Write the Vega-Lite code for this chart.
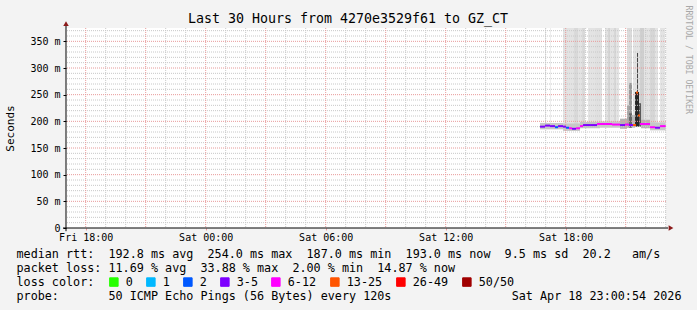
{
  "$schema": "https://vega.github.io/schema/vega-lite/v6.json",
  "width": 600,
  "height": 200,
  "autosize": {"type": "none"},
  "padding": {"left": 66, "top": 28, "right": 31, "bottom": 82},
  "background": "#f3f3f3",
  "config": {"view": {"stroke": null, "fill": "white"}, "font": "DejaVu Sans Mono"},
  "title": {"text": "Last 30 Hours from 4270e3529f61 to GZ_CT", "font": "DejaVu Sans Mono", "fontSize": 13.3, "fontWeight": "normal", "color": "black", "anchor": "middle", "frame": "group", "dx": -18, "dy": 24, "offset": 4},
  "datasets": {
    "smoke": [
      {"t0": "2026-04-18T16:58:00", "t1": "2026-04-18T17:01:00", "lo": 195, "hi": 375, "density": 0.10},
      {"t0": "2026-04-18T17:13:00", "t1": "2026-04-18T17:16:00", "lo": 195, "hi": 375, "density": 0.07},
      {"t0": "2026-04-18T17:52:00", "t1": "2026-04-18T18:25:00", "lo": 195, "hi": 375, "density": 0.11},
      {"t0": "2026-04-18T18:25:00", "t1": "2026-04-18T18:37:00", "lo": 195, "hi": 375, "density": 0.15},
      {"t0": "2026-04-18T18:37:00", "t1": "2026-04-18T18:49:00", "lo": 195, "hi": 375, "density": 0.11},
      {"t0": "2026-04-18T18:49:00", "t1": "2026-04-18T18:58:00", "lo": 195, "hi": 375, "density": 0.15},
      {"t0": "2026-04-18T19:07:00", "t1": "2026-04-18T19:28:00", "lo": 195, "hi": 375, "density": 0.11},
      {"t0": "2026-04-18T19:28:00", "t1": "2026-04-18T19:49:00", "lo": 195, "hi": 375, "density": 0.12},
      {"t0": "2026-04-18T19:58:00", "t1": "2026-04-18T20:07:00", "lo": 195, "hi": 375, "density": 0.11},
      {"t0": "2026-04-18T20:07:00", "t1": "2026-04-18T20:13:00", "lo": 195, "hi": 375, "density": 0.17},
      {"t0": "2026-04-18T20:13:00", "t1": "2026-04-18T20:25:00", "lo": 195, "hi": 375, "density": 0.11},
      {"t0": "2026-04-18T20:25:00", "t1": "2026-04-18T20:31:00", "lo": 195, "hi": 375, "density": 0.16},
      {"t0": "2026-04-18T20:31:00", "t1": "2026-04-18T20:40:00", "lo": 195, "hi": 375, "density": 0.11},
      {"t0": "2026-04-18T21:04:00", "t1": "2026-04-18T21:19:00", "lo": 195, "hi": 375, "density": 0.14},
      {"t0": "2026-04-18T21:22:00", "t1": "2026-04-18T21:43:00", "lo": 195, "hi": 375, "density": 0.11},
      {"t0": "2026-04-18T21:43:00", "t1": "2026-04-18T21:55:00", "lo": 195, "hi": 375, "density": 0.19},
      {"t0": "2026-04-18T21:55:00", "t1": "2026-04-18T22:13:00", "lo": 195, "hi": 375, "density": 0.11},
      {"t0": "2026-04-18T22:13:00", "t1": "2026-04-18T22:28:00", "lo": 195, "hi": 375, "density": 0.16},
      {"t0": "2026-04-18T22:28:00", "t1": "2026-04-18T22:37:00", "lo": 195, "hi": 375, "density": 0.11},
      {"t0": "2026-04-18T22:43:00", "t1": "2026-04-18T22:58:00", "lo": 195, "hi": 375, "density": 0.11},
      {"t0": "2026-04-18T16:43:00", "t1": "2026-04-18T17:52:00", "lo": 185, "hi": 197, "density": 0.22},
      {"t0": "2026-04-18T17:52:00", "t1": "2026-04-18T18:43:00", "lo": 182, "hi": 196, "density": 0.22},
      {"t0": "2026-04-18T18:43:00", "t1": "2026-04-18T19:43:00", "lo": 187, "hi": 199, "density": 0.24},
      {"t0": "2026-04-18T19:43:00", "t1": "2026-04-18T20:43:00", "lo": 188, "hi": 200, "density": 0.22},
      {"t0": "2026-04-18T20:43:00", "t1": "2026-04-18T21:04:00", "lo": 186, "hi": 205, "density": 0.30},
      {"t0": "2026-04-18T21:04:00", "t1": "2026-04-18T21:10:00", "lo": 188, "hi": 230, "density": 0.35},
      {"t0": "2026-04-18T21:10:00", "t1": "2026-04-18T21:19:00", "lo": 188, "hi": 272, "density": 0.40},
      {"t0": "2026-04-18T21:10:00", "t1": "2026-04-18T21:19:00", "lo": 188, "hi": 215, "density": 0.60},
      {"t0": "2026-04-18T21:19:00", "t1": "2026-04-18T21:28:00", "lo": 188, "hi": 212, "density": 0.28},
      {"t0": "2026-04-18T21:28:00", "t1": "2026-04-18T21:40:00", "lo": 190, "hi": 255, "density": 0.85},
      {"t0": "2026-04-18T21:34:00", "t1": "2026-04-18T21:37:00", "lo": 255, "hi": 328, "density": 0.75},
      {"t0": "2026-04-18T21:40:00", "t1": "2026-04-18T21:46:00", "lo": 190, "hi": 234, "density": 0.65},
      {"t0": "2026-04-18T21:46:00", "t1": "2026-04-18T22:13:00", "lo": 187, "hi": 203, "density": 0.30},
      {"t0": "2026-04-18T22:13:00", "t1": "2026-04-18T23:00:00", "lo": 183, "hi": 198, "density": 0.22}
    ],
    "median": [
      {"t0": "2026-04-18T16:43:00", "t1": "2026-04-18T16:58:00", "rtt": 190, "loss": "3-5"},
      {"t0": "2026-04-18T16:58:00", "t1": "2026-04-18T17:13:00", "rtt": 192, "loss": "3-5"},
      {"t0": "2026-04-18T17:13:00", "t1": "2026-04-18T17:28:00", "rtt": 191, "loss": "3-5"},
      {"t0": "2026-04-18T17:28:00", "t1": "2026-04-18T17:37:00", "rtt": 189, "loss": "2"},
      {"t0": "2026-04-18T17:37:00", "t1": "2026-04-18T17:52:00", "rtt": 191, "loss": "3-5"},
      {"t0": "2026-04-18T17:52:00", "t1": "2026-04-18T18:01:00", "rtt": 190, "loss": "3-5"},
      {"t0": "2026-04-18T18:01:00", "t1": "2026-04-18T18:10:00", "rtt": 188, "loss": "2"},
      {"t0": "2026-04-18T18:10:00", "t1": "2026-04-18T18:19:00", "rtt": 187, "loss": "6-12"},
      {"t0": "2026-04-18T18:19:00", "t1": "2026-04-18T18:31:00", "rtt": 186, "loss": "3-5"},
      {"t0": "2026-04-18T18:31:00", "t1": "2026-04-18T18:43:00", "rtt": 187, "loss": "6-12"},
      {"t0": "2026-04-18T18:43:00", "t1": "2026-04-18T18:52:00", "rtt": 191, "loss": "6-12"},
      {"t0": "2026-04-18T18:52:00", "t1": "2026-04-18T19:13:00", "rtt": 193, "loss": "3-5"},
      {"t0": "2026-04-18T19:13:00", "t1": "2026-04-18T19:34:00", "rtt": 193, "loss": "3-5"},
      {"t0": "2026-04-18T19:34:00", "t1": "2026-04-18T19:58:00", "rtt": 195, "loss": "6-12"},
      {"t0": "2026-04-18T19:58:00", "t1": "2026-04-18T20:19:00", "rtt": 195, "loss": "6-12"},
      {"t0": "2026-04-18T20:19:00", "t1": "2026-04-18T20:43:00", "rtt": 194, "loss": "6-12"},
      {"t0": "2026-04-18T20:43:00", "t1": "2026-04-18T20:58:00", "rtt": 193, "loss": "3-5"},
      {"t0": "2026-04-18T20:58:00", "t1": "2026-04-18T21:10:00", "rtt": 194, "loss": "6-12"},
      {"t0": "2026-04-18T21:10:00", "t1": "2026-04-18T21:22:00", "rtt": 193, "loss": "3-5"},
      {"t0": "2026-04-18T21:22:00", "t1": "2026-04-18T21:31:00", "rtt": 193, "loss": "13-25"},
      {"t0": "2026-04-18T21:31:00", "t1": "2026-04-18T21:37:00", "rtt": 254, "loss": "13-25"},
      {"t0": "2026-04-18T21:37:00", "t1": "2026-04-18T21:43:00", "rtt": 211, "loss": "13-25"},
      {"t0": "2026-04-18T21:43:00", "t1": "2026-04-18T21:58:00", "rtt": 195, "loss": "6-12"},
      {"t0": "2026-04-18T21:58:00", "t1": "2026-04-18T22:13:00", "rtt": 195, "loss": "6-12"},
      {"t0": "2026-04-18T22:13:00", "t1": "2026-04-18T22:28:00", "rtt": 189, "loss": "6-12"},
      {"t0": "2026-04-18T22:28:00", "t1": "2026-04-18T22:43:00", "rtt": 188, "loss": "3-5"},
      {"t0": "2026-04-18T22:43:00", "t1": "2026-04-18T23:00:00", "rtt": 191, "loss": "6-12"}
    ],
    "xgrid_minor": [
      {"t": "2026-04-17T19:00:00"}, {"t": "2026-04-17T20:00:00"}, {"t": "2026-04-17T22:00:00"}, {"t": "2026-04-17T23:00:00"},
      {"t": "2026-04-18T01:00:00"}, {"t": "2026-04-18T02:00:00"}, {"t": "2026-04-18T04:00:00"}, {"t": "2026-04-18T05:00:00"},
      {"t": "2026-04-18T07:00:00"}, {"t": "2026-04-18T08:00:00"}, {"t": "2026-04-18T10:00:00"}, {"t": "2026-04-18T11:00:00"},
      {"t": "2026-04-18T13:00:00"}, {"t": "2026-04-18T14:00:00"}, {"t": "2026-04-18T16:00:00"}, {"t": "2026-04-18T17:00:00"},
      {"t": "2026-04-18T19:00:00"}, {"t": "2026-04-18T20:00:00"}, {"t": "2026-04-18T22:00:00"}, {"t": "2026-04-18T23:00:00"}
    ],
    "xgrid_major": [
      {"t": "2026-04-17T18:00:00"}, {"t": "2026-04-17T21:00:00"}, {"t": "2026-04-18T00:00:00"}, {"t": "2026-04-18T03:00:00"},
      {"t": "2026-04-18T06:00:00"}, {"t": "2026-04-18T09:00:00"}, {"t": "2026-04-18T12:00:00"}, {"t": "2026-04-18T15:00:00"},
      {"t": "2026-04-18T18:00:00"}, {"t": "2026-04-18T21:00:00"}
    ],
    "ygrid_minor": [
      {"v": 10}, {"v": 20}, {"v": 30}, {"v": 40}, {"v": 60}, {"v": 70}, {"v": 80}, {"v": 90},
      {"v": 110}, {"v": 120}, {"v": 130}, {"v": 140}, {"v": 160}, {"v": 170}, {"v": 180}, {"v": 190},
      {"v": 210}, {"v": 220}, {"v": 230}, {"v": 240}, {"v": 260}, {"v": 270}, {"v": 280}, {"v": 290},
      {"v": 310}, {"v": 320}, {"v": 330}, {"v": 340}, {"v": 360}, {"v": 370}
    ],
    "ygrid_major": [
      {"v": 50}, {"v": 100}, {"v": 150}, {"v": 200}, {"v": 250}, {"v": 300}, {"v": 350}
    ]
  },
  "layer": [
    {
      "data": {"name": "smoke"},
      "mark": {"type": "rect"},
      "encoding": {
        "x": {
          "field": "t0", "type": "temporal", "axis": null,
          "scale": {"domain": [{"year": 2026, "month": 4, "date": 17, "hours": 17, "minutes": 0, "seconds": 54}, {"year": 2026, "month": 4, "date": 18, "hours": 23, "minutes": 0, "seconds": 54}]}
        },
        "x2": {"field": "t1"},
        "y": {
          "field": "lo", "type": "quantitative",
          "scale": {"domain": [0, 375], "nice": false},
          "axis": {
            "orient": "left",
            "values": [0, 50, 100, 150, 200, 250, 300, 350],
            "labelExpr": "datum.value == 0 ? '0' : datum.value + ' m'",
            "labelFont": "DejaVu Sans Mono", "labelFontSize": 10, "labelColor": "black",
            "tickSize": 3, "tickColor": "black", "labelPadding": 3, "grid": false, "domain": false,
            "title": "Seconds", "titleFont": "DejaVu Sans Mono", "titleFontSize": 11, "titleFontWeight": "normal", "titleColor": "black",
            "titleX": -56, "titleY": 100, "titleAngle": -90, "titleAlign": "center", "titleBaseline": "middle"
          }
        },
        "y2": {"field": "hi"},
        "fill": {"field": "density", "type": "quantitative", "scale": {"type": "linear", "domain": [0, 1], "range": ["#ffffff", "#000000"], "interpolate": "rgb"}, "legend": null}
      }
    },
    {
      "data": {"name": "ygrid_minor"},
      "mark": {"type": "rule", "stroke": "#c8c8c8", "strokeWidth": 1, "strokeDash": [1, 1]},
      "encoding": {"y": {"field": "v", "type": "quantitative", "axis": null}}
    },
    {
      "data": {"name": "xgrid_minor"},
      "mark": {"type": "rule", "stroke": "#c8c8c8", "strokeWidth": 1, "strokeDash": [1, 1]},
      "encoding": {"x": {"field": "t", "type": "temporal", "axis": null}}
    },
    {
      "data": {"name": "ygrid_major"},
      "mark": {"type": "rule", "stroke": "#e89a9a", "strokeWidth": 1, "strokeDash": [1, 1]},
      "encoding": {
        "y": {
          "field": "v", "type": "quantitative",
          "axis": {
            "orient": "right", "labels": false, "ticks": false, "domain": false, "grid": false,
            "title": "RRDTOOL / TOBI OETIKER", "titleFont": "DejaVu Sans Mono", "titleFontSize": 8.2, "titleFontWeight": "normal", "titleColor": "#a8a8a8",
            "titleAngle": 90, "titleX": 21, "titleY": -23, "titleAlign": "left", "titleBaseline": "middle"
          }
        }
      }
    },
    {
      "data": {"name": "xgrid_major"},
      "mark": {"type": "rule", "stroke": "#e89a9a", "strokeWidth": 1, "strokeDash": [1, 1]},
      "encoding": {
        "x": {
          "field": "t", "type": "temporal",
          "axis": {
            "orient": "bottom",
            "values": [
              {"year": 2026, "month": 4, "date": 17, "hours": 18},
              {"year": 2026, "month": 4, "date": 18, "hours": 0},
              {"year": 2026, "month": 4, "date": 18, "hours": 6},
              {"year": 2026, "month": 4, "date": 18, "hours": 12},
              {"year": 2026, "month": 4, "date": 18, "hours": 18}
            ],
            "format": "%a %H:%M",
            "labelFont": "DejaVu Sans Mono", "labelFontSize": 10, "labelColor": "black",
            "tickSize": 2, "tickColor": "#e89a9a", "labelPadding": 2, "grid": false, "domain": false,
            "title": [
              "median\u00a0rtt:\u00a0\u00a0192.8\u00a0ms\u00a0avg\u00a0\u00a0254.0\u00a0ms\u00a0max\u00a0\u00a0187.0\u00a0ms\u00a0min\u00a0\u00a0193.0\u00a0ms\u00a0now\u00a0\u00a09.5\u00a0ms\u00a0sd\u00a0\u00a020.2\u00a0\u00a0\u00a0am/s",
              "packet\u00a0loss:\u00a011.69\u00a0%\u00a0avg\u00a0\u00a033.88\u00a0%\u00a0max\u00a0\u00a02.00\u00a0%\u00a0min\u00a0\u00a014.87\u00a0%\u00a0now",
              "loss\u00a0color:",
              "probe:\u00a0\u00a0\u00a0\u00a0\u00a0\u00a0\u00a050\u00a0ICMP\u00a0Echo\u00a0Pings\u00a0(56\u00a0Bytes)\u00a0every\u00a0120s\u00a0\u00a0\u00a0\u00a0\u00a0\u00a0\u00a0\u00a0\u00a0\u00a0\u00a0\u00a0\u00a0\u00a0\u00a0\u00a0\u00a0Sat\u00a0Apr\u00a018\u00a023:00:54\u00a02026"
            ],
            "titleFont": "DejaVu Sans Mono", "titleFontSize": 11.75, "titleFontWeight": "normal", "titleColor": "black",
            "titleLineHeight": 14, "titleAlign": "left", "titleBaseline": "top",
            "titleX": -50, "titleY": 20
          }
        }
      }
    },
    {
      "data": {"name": "median"},
      "mark": {"type": "rule", "strokeWidth": 2},
      "encoding": {
        "x": {"field": "t0", "type": "temporal", "axis": null},
        "x2": {"field": "t1"},
        "y": {"field": "rtt", "type": "quantitative", "axis": null},
        "color": {
          "field": "loss", "type": "nominal",
          "scale": {"domain": ["0", "1", "2", "3-5", "6-12", "13-25", "26-49", "50/50"], "range": ["#26ff00", "#00b8ff", "#0059ff", "#7e00ff", "#ff00ff", "#ff5500", "#ff0000", "#a10000"]},
          "legend": {
            "orient": "none", "legendX": 42, "legendY": 248, "direction": "horizontal",
            "title": null,
            "labelFont": "DejaVu Sans Mono", "labelFontSize": 11.75, "labelColor": "black", "labelOffset": 6,
            "symbolType": "square", "symbolSize": 72, "columnPadding": 11,
            "encode": {"symbols": {"update": {"fill": {"scale": "color", "field": "value"}, "stroke": {"value": "black"}, "strokeWidth": {"value": 1}, "opacity": {"value": 1}}}}
          }
        }
      }
    },
    {
      "data": {"values": [{}]},
      "mark": {"type": "rule", "color": "black", "strokeWidth": 1},
      "encoding": {
        "x": {"datum": {"year": 2026, "month": 4, "date": 17, "hours": 16, "minutes": 51, "seconds": 54}, "type": "temporal", "axis": null},
        "x2": {"datum": {"year": 2026, "month": 4, "date": 18, "hours": 23, "minutes": 6, "seconds": 54}},
        "y": {"datum": 0, "type": "quantitative", "axis": null}
      }
    },
    {
      "data": {"values": [{}]},
      "mark": {"type": "rule", "color": "black", "strokeWidth": 1},
      "encoding": {
        "x": {"datum": {"year": 2026, "month": 4, "date": 17, "hours": 17, "minutes": 0, "seconds": 54}, "type": "temporal", "axis": null},
        "y": {"datum": -6, "type": "quantitative", "axis": null},
        "y2": {"datum": 380}
      }
    },
    {
      "data": {"values": [{}]},
      "mark": {"type": "point", "shape": "triangle-up", "size": 30, "filled": true, "color": "#8b1a1a", "opacity": 1},
      "encoding": {
        "x": {"datum": {"year": 2026, "month": 4, "date": 17, "hours": 17, "minutes": 0, "seconds": 54}, "type": "temporal", "axis": null},
        "y": {"datum": 383, "type": "quantitative", "axis": null}
      }
    },
    {
      "data": {"values": [{}]},
      "mark": {"type": "point", "shape": "triangle-right", "size": 30, "filled": true, "color": "#8b1a1a", "opacity": 1},
      "encoding": {
        "x": {"datum": {"year": 2026, "month": 4, "date": 18, "hours": 23, "minutes": 15, "seconds": 54}, "type": "temporal", "axis": null},
        "y": {"datum": 0, "type": "quantitative", "axis": null}
      }
    }
  ],
  "resolve": {"axis": {"x": "independent", "y": "independent"}}
}
